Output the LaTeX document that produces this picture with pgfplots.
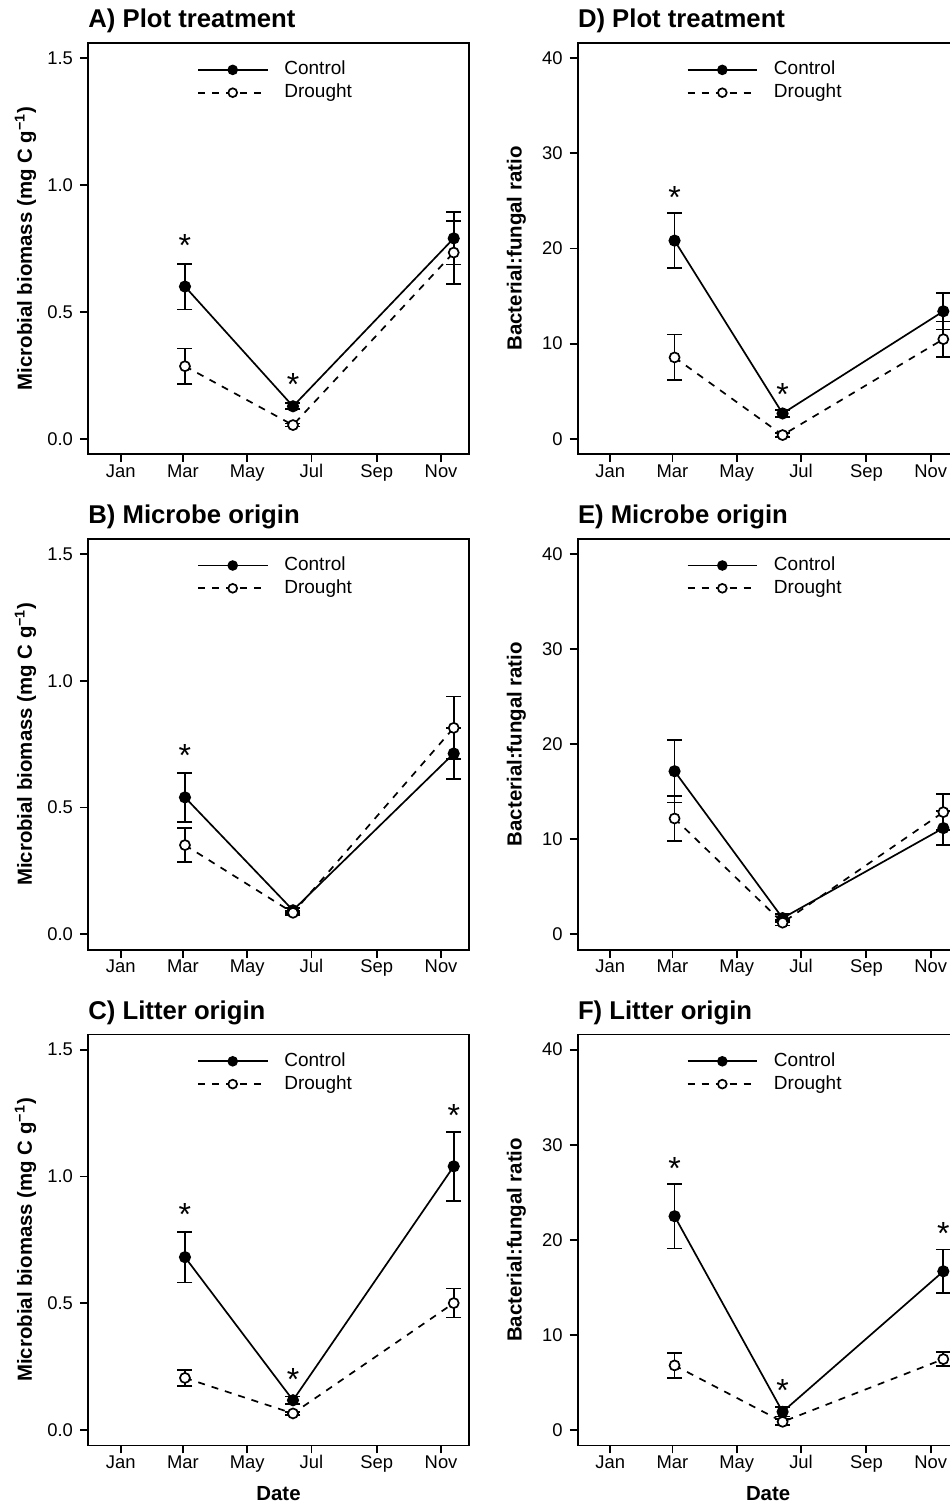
\documentclass[border=0pt]{standalone}
\usepackage{fontspec}
\setmainfont{Liberation Sans}
\usepackage{pgfplots}
\pgfplotsset{compat=1.18}

% x = day of the year, ticks on the first of each month
\pgfplotsset{
  panel/.style={
    scale only axis, width=190.5pt, height=205.5pt,
    anchor=north west, clip=false,
    xmin=-31, xmax=330.5,
    xtick={0,59,120,181,243,304},
    xticklabels={Jan,Mar,May,Jul,Sep,Nov},
    xtick pos=bottom, ytick pos=left, tick align=outside,
    major tick length=4pt,
    axis line style={line width=0.9pt},
    every tick/.style={black, line width=0.9pt},
    tick label style={font=\fontsize{9.2}{10}\selectfont},
    xticklabel style={text height=6.6pt, text depth=0pt, yshift=2.5pt},
    /pgf/number format/assume math mode=true,
    label style={font=\bfseries\fontsize{10.2}{12}\selectfont},
    ylabel style={at={(axis description cs:-0.147,0.5)}, anchor=base},
    xlabel style={at={(axis description cs:0.5,-0.1338)}, anchor=base},
    legend style={draw=none, fill=none, at={(0.270,0.973)}, anchor=north west,
      font=\fontsize{9.5}{11}\selectfont,
      nodes={inner sep=1.2pt, text height=7pt, text depth=2pt}},
    legend cell align=left,
    legend image code/.code={\draw[mark repeat=2,mark phase=2,mark size=2.2pt]
      plot coordinates {(0pt,0pt) (17.3pt,0pt) (34.7pt,0pt)};
      \path (41.5pt,0pt);},
  },
  bio/.style={ymin=-0.06, ymax=1.56, ytick={0,0.5,1,1.5},
    yticklabel style={/pgf/number format/.cd, fixed, fixed zerofill, precision=1},
    ylabel={Microbial biomass (mg C g\textsuperscript{−1})}},
  bf/.style={ymin=-1.6, ymax=41.6, ytick={0,10,20,30,40},
    ylabel={Bacterial:fungal ratio}},
  ctrl/.style={black, line width=0.85pt, mark=*, mark size=2.6pt,
    mark options={solid, fill=black},
    error bars/.cd, y dir=both, y explicit,
    error bar style={solid, line width=0.85pt},
    error mark options={rotate=90, mark size=3.75pt, line width=0.85pt}},
  drt/.style={black, line width=0.85pt, dash pattern=on 3.5pt off 3.5pt,
    mark=*, mark size=2.5pt, mark options={solid, fill=white},
    error bars/.cd, y dir=both, y explicit,
    error bar style={solid, line width=0.85pt},
    error mark options={rotate=90, mark size=3.75pt, line width=0.85pt}},
}
\tikzset{
  star/.style={anchor=base, yshift=-9.2pt, inner sep=0pt, font=\fontsize{16}{16}\selectfont},
  ttl/.style={anchor=base west, inner sep=0pt, yshift=7.5pt, font=\bfseries\fontsize{12.85}{14}\selectfont},
}

\begin{document}
\begin{tikzpicture}

% A
\begin{axis}[panel, bio, at={(44pt,-21.5pt)}]
\addplot[ctrl] coordinates {(61,0.600) +- (0,0.090) (163.5,0.128) +- (0,0.012) (316,0.790) +- (0,0.103)};
\addplot[drt] coordinates {(61,0.286) +- (0,0.070) (163.5,0.054) +- (0,0.006) (316,0.734) +- (0,0.125)};
\legend{Control,Drought}
\node[star] at (axis cs:61,0.79) {*};
\node[star] at (axis cs:163.5,0.242) {*};
\node[ttl] at (rel axis cs:0,1) {A) Plot treatment};
\end{axis}

% B
\begin{axis}[panel, bio, at={(44pt,-269.3pt)}]
\addplot[ctrl] coordinates {(61,0.540) +- (0,0.096) (163.5,0.095) +- (0,0.010) (316,0.713) +- (0,0.100)};
\addplot[drt] coordinates {(61,0.352) +- (0,0.068) (163.5,0.085) +- (0,0.008) (316,0.814) +- (0,0.124)};
\legend{Control,Drought}
\node[star] at (axis cs:61,0.733) {*};
\node[ttl] at (rel axis cs:0,1) {B) Microbe origin};
\end{axis}

% C
\begin{axis}[panel, bio, at={(44pt,-517.2pt)}, xlabel={Date}]
\addplot[ctrl] coordinates {(61,0.682) +- (0,0.100) (163.5,0.118) +- (0,0.015) (316,1.040) +- (0,0.136)};
\addplot[drt] coordinates {(61,0.206) +- (0,0.031) (163.5,0.066) +- (0,0.006) (316,0.501) +- (0,0.057)};
\legend{Control,Drought}
\node[star] at (axis cs:61,0.879) {*};
\node[star] at (axis cs:163.5,0.23) {*};
\node[star] at (axis cs:316,1.27) {*};
\node[ttl] at (rel axis cs:0,1) {C) Litter origin};
\end{axis}

% D
\begin{axis}[panel, bf, at={(288.8pt,-21.5pt)}]
\addplot[ctrl] coordinates {(61,20.83) +- (0,2.9) (163.5,2.66) +- (0,0.4) (316,13.40) +- (0,1.9)};
\addplot[drt] coordinates {(61,8.55) +- (0,2.4) (163.5,0.39) +- (0,0.2) (316,10.47) +- (0,1.85)};
\legend{Control,Drought}
\node[star] at (axis cs:61,26.1) {*};
\node[star] at (axis cs:163.5,5.46) {*};
\node[ttl] at (rel axis cs:0,1) {D) Plot treatment};
\end{axis}

% E
\begin{axis}[panel, bf, at={(288.8pt,-269.3pt)}]
\addplot[ctrl] coordinates {(61,17.15) +- (0,3.3) (163.5,1.71) +- (0,0.4) (316,11.17) +- (0,1.8)};
\addplot[drt] coordinates {(61,12.18) +- (0,2.4) (163.5,1.23) +- (0,0.3) (316,12.85) +- (0,1.9)};
\legend{Control,Drought}
\node[ttl] at (rel axis cs:0,1) {E) Microbe origin};
\end{axis}

% F
\begin{axis}[panel, bf, at={(288.8pt,-517.2pt)}, xlabel={Date}]
\addplot[ctrl] coordinates {(61,22.49) +- (0,3.4) (163.5,1.93) +- (0,0.5) (316,16.70) +- (0,2.3)};
\addplot[drt] coordinates {(61,6.81) +- (0,1.3) (163.5,0.88) +- (0,0.3) (316,7.47) +- (0,0.75)};
\legend{Control,Drought}
\node[star] at (axis cs:61,28.3) {*};
\node[star] at (axis cs:163.5,4.9) {*};
\node[star] at (axis cs:316,21.5) {*};
\node[ttl] at (rel axis cs:0,1) {F) Litter origin};
\end{axis}

\pgfresetboundingbox
\path[use as bounding box] (0,0) rectangle (474.5pt,-752pt);
\end{tikzpicture}
\end{document}
